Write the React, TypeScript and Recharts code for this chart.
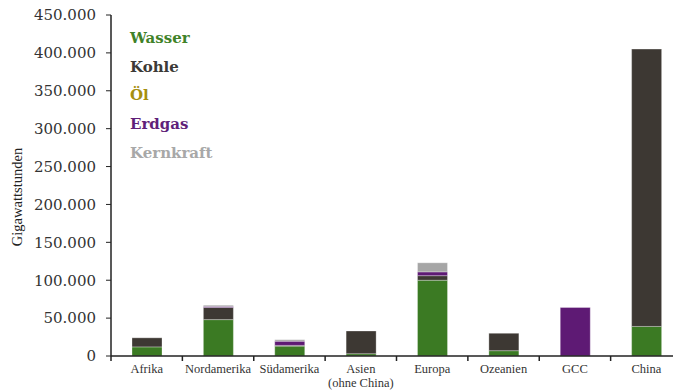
import React from 'react';
import { BarChart, Bar, XAxis, YAxis } from 'recharts';

const regions = ['Afrika', 'Nordamerika', 'Südamerika', 'Asien\n(ohne China)', 'Europa', 'Ozeanien', 'GCC', 'China'];

// Gigawattstunden per source
const wasser = [12000, 48000, 13000, 3000, 100000, 7000, 0, 39000];
const kohle = [12000, 16000, 1000, 30000, 6000, 23000, 0, 366000];
const oel = [0, 0, 0, 0, 0, 0, 0, 0];
const erdgas = [0, 1500, 5500, 0, 5000, 0, 64000, 0];
const kernkraft = [0, 1500, 2000, 0, 12000, 0, 0, 0];

const yTicks = [0, 50000, 100000, 150000, 200000, 250000, 300000, 350000, 400000, 450000];

const series = [
  { key: 'wasser', name: 'Wasser', color: '#3b7a23', text: '#3f8228' },
  { key: 'kohle', name: 'Kohle', color: '#3d3833', text: '#3c3a37' },
  { key: 'oel', name: 'Öl', color: '#a38c12', text: '#a68f10' },
  { key: 'erdgas', name: 'Erdgas', color: '#5e1a74', text: '#601f79' },
  { key: 'kernkraft', name: 'Kernkraft', color: '#a6a6a6', text: '#a8a8a8' },
];

const data = regions.map((name, i) => ({
  name,
  wasser: wasser[i],
  kohle: kohle[i],
  oel: oel[i],
  erdgas: erdgas[i],
  kernkraft: kernkraft[i],
}));

const fmt = (v: number) => String(v).replace(/\B(?=(\d{3})+(?!\d))/g, '.');

const CategoryTick = (props: any) => {
  const { x, y, payload } = props;
  const half = payload?.offset ?? 0;
  const lines = String(payload.value).split('\n');
  return (
    <g>
      <line x1={x - half} x2={x - half} y1={y} y2={y + 5} stroke="#222" strokeWidth={1.5} />
      {lines.map((l: string, i: number) => (
        <text
          key={i}
          x={x}
          y={y + 17 + i * 14}
          textAnchor="middle"
          fill="#333"
          fontSize={12.5}
          fontFamily="'Liberation Serif', serif"
        >
          {l}
        </text>
      ))}
    </g>
  );
};

export default function App() {
  return (
    <div style={{ position: 'absolute', left: 0, top: 0, width: 673, height: 390, overflow: 'hidden', background: '#fff' }}>
      <BarChart
        width={690}
        height={390}
        data={data}
        margin={{ top: 15, right: 8, left: 0, bottom: 0 }}
        barSize={30}
      >
        <XAxis
          dataKey="name"
          interval={0}
          height={34}
          axisLine={{ stroke: '#222', strokeWidth: 1.5 }}
          tickLine={false}
          tickSize={0}
          tickMargin={0}
          tick={<CategoryTick />}
        />
        <YAxis
          width={111}
          domain={[0, 450000]}
          ticks={yTicks}
          interval={0}
          tickFormatter={fmt}
          axisLine={{ stroke: '#222', strokeWidth: 1.5 }}
          tickLine={{ stroke: '#222' }}
          tickSize={5}
          tickMargin={10}
          tick={{ fill: '#333', fontSize: 15, fontFamily: "'DejaVu Serif', serif" }}
          label={{
            content: () => (
              <text
                transform="translate(22, 197) rotate(-90)"
                textAnchor="middle"
                fill="#222"
                fontSize={14.5}
                fontFamily="'Liberation Serif', serif"
              >
                Gigawattstunden
              </text>
            ),
          }}
        />
        {series.map((s) => (
          <Bar
            key={s.key}
            dataKey={s.key}
            name={s.name}
            stackId="a"
            fill={s.color}
            stroke="rgba(255,255,255,0.5)"
            strokeWidth={0.6}
            isAnimationActive={false}
          />
        ))}
      </BarChart>
      <div style={{ position: 'absolute', left: 130, top: 24, fontFamily: "'DejaVu Serif', serif", fontWeight: 'bold', fontSize: 15, lineHeight: '28.7px' }}>
        {series.map((s) => (
          <div key={s.key} style={{ color: s.text }}>{s.name}</div>
        ))}
      </div>
    </div>
  );
}
